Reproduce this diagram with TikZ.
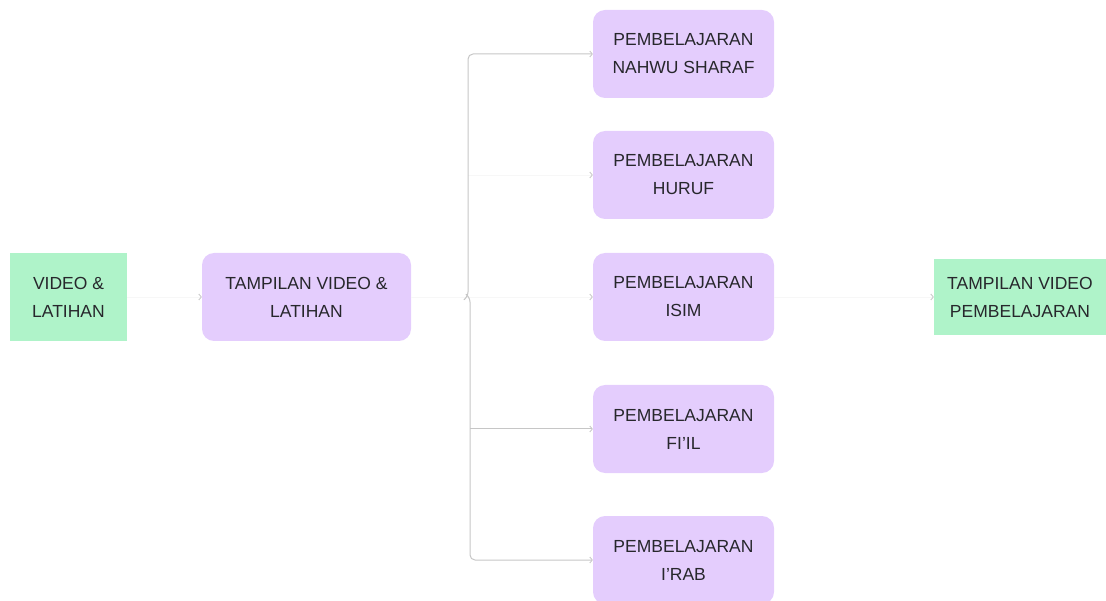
\documentclass[tikz,border=0pt]{standalone}
\usepackage{fontspec}
\setmainfont{Liberation Sans}
\usetikzlibrary{arrows.meta}
\definecolor{lilac}{HTML}{E4CDFD}
\definecolor{mint}{HTML}{AFF3C9}
\definecolor{inkc}{HTML}{27272C}
\definecolor{wirec}{HTML}{C6C6C6}
\definecolor{ghost}{HTML}{F7F7F7}
\tikzset{
  base/.style={inner sep=0pt, align=center, text=inkc,
    font=\fontsize{17.5}{28}\selectfont},
  greenbox/.style={base, fill=mint},
  purplebox/.style={base, fill=lilac, rounded corners=12pt,
    minimum width=181pt, minimum height=88pt},
  tip/.style={-{Straight Barb[length=2.5pt,width=6pt,line width=0.8pt]}},
  wire/.style={draw=wirec, line width=1pt, tip},
  faint/.style={draw=ghost, line width=0.6pt,
    -{Straight Barb[length=2.5pt,width=6pt,line width=0.8pt,color=black!22]}},
}
\begin{document}
\begin{tikzpicture}[x=1pt,y=-1pt]
\useasboundingbox (0,0) rectangle (1106,601);
\begin{scope}
\clip (0,0) rectangle (1106,601);

% entry and exit screens
\node[greenbox, minimum width=117pt, minimum height=88pt] (vl) at (68.5,297) {VIDEO \&\\LATIHAN};
\node[greenbox, minimum width=172pt, minimum height=76pt] (tvp) at (1020,297) {TAMPILAN VIDEO\\PEMBELAJARAN};

% menu screen
\node[base, fill=lilac, rounded corners=12pt, minimum width=209pt, minimum height=88pt] (tv) at (306.5,297) {TAMPILAN VIDEO \&\\LATIHAN};

% lesson topics
\node[purplebox] (p1) at (683.5,54)  {PEMBELAJARAN\\NAHWU SHARAF};
\node[purplebox] (p2) at (683.5,175) {PEMBELAJARAN\\HURUF};
\node[purplebox] (p3) at (683.5,297) {PEMBELAJARAN\\ISIM};
\node[purplebox] (p4) at (683.5,429) {PEMBELAJARAN\\FI’IL};
\node[purplebox] (p5) at (683.5,560) {PEMBELAJARAN\\I’RAB};
\end{scope}

% branch points
\coordinate (jt) at (468,297);
\coordinate (jb) at (470,297);
\coordinate (j4) at (jb |- p4.west);

% faint links
\draw[faint] (vl.east) -- (tv.west);
\draw[draw=ghost, line width=0.6pt] (tv.east) -- (jt);
\draw[faint] (jt |- p2.west) -- (p2.west);
\draw[faint] (jt) -- (p3.west);
\draw[faint] (p3.east) -- (tvp.west);

% tree of lesson links
\draw[wire, rounded corners=5pt] (465,299) -- (jt) -- (jt |- p1.west) -- (p1.west);
\draw[wire, rounded corners=5pt] (467,295) -- (jb) -- (jb |- p5.west) -- (p5.west);
\draw[wire] (j4) -- (p4.west);
\end{tikzpicture}
\end{document}
